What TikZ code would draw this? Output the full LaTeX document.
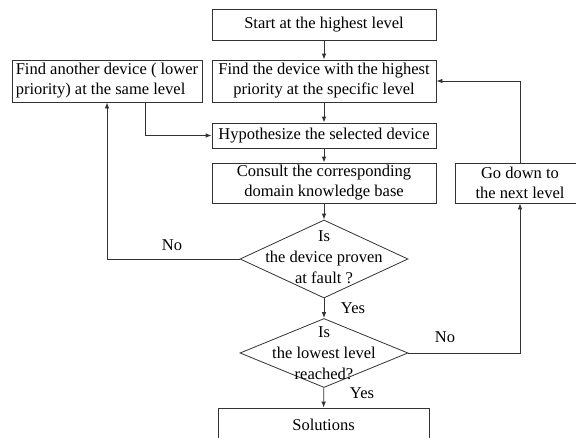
\documentclass[tikz,border=0pt]{standalone}
\usepackage{fontspec}
\setmainfont{Liberation Serif}
\usetikzlibrary{shapes.geometric,arrows.meta}
\begin{document}
\begin{tikzpicture}[x=1pt,y=-1pt,
  box/.style={draw=black!80,line width=0.8pt,inner sep=0pt,align=center,font=\fontsize{16.5}{20}\selectfont},
  dia/.style={draw=black!80,line width=0.8pt,shape=diamond,inner sep=0pt,minimum width=168pt},
  dtxt/.style={inner sep=0pt,align=center,font=\fontsize{16.5}{21}\selectfont},
  lab/.style={inner sep=0pt,font=\fontsize{16.5}{20}\selectfont},
  arr/.style={draw=black!80,line width=0.8pt,-{Latex[length=6pt,width=4.5pt]}}]
\useasboundingbox (0,0) rectangle (576,437);
\clip (0,0) rectangle (576,437);
\node[box,minimum width=224pt,minimum height=31pt] (start) at (324,24.5) {Start at the highest level};
\node[box,minimum width=224pt,minimum height=42pt] (find) at (324,81) {Find the device with the highest\\priority at the specific level};
\node[box,align=left,minimum width=190pt,minimum height=42pt] (other) at (107,81) {Find another device ( lower\\priority) at the same level};
\node[box,minimum width=224pt,minimum height=25pt] (hyp) at (324,135.5) {Hypothesize the selected device};
\node[box,minimum width=224pt,minimum height=40pt] (cons) at (324,183) {Consult the corresponding\\domain knowledge base};
\node[box,minimum width=130pt,minimum height=40pt] (down) at (520,183) {Go down to\\the next level};
\node[dia,minimum height=78pt] (d1) at (324,259) {};
\node[dtxt] (d1t) at (324,257.5) {Is\\the device proven\\at fault ?};
\node[dia,minimum height=69pt] (d2) at (324,353) {};
\node[dtxt] (d2t) at (324,353) {Is\\the lowest level\\reached?};
\node[box,minimum width=211pt,minimum height=34pt] (sol) at (323.5,425) {Solutions};
\draw[arr] (start) -- (find);
\draw[arr] (find) -- (hyp);
\draw[arr] (hyp) -- (cons);
\draw[arr] (cons) -- (d1);
\draw[arr] (d1) -- (d2);
\draw[arr] (d2) -- (sol);
\draw[arr] (d1.west) -| (other.south);
\draw[arr] ([xshift=38pt]other.south) |- (hyp.west);
\draw[arr] (d2.east) -| (down.south);
\draw[arr] (down.north) |- (find.east);
\node[lab] (no1) at (172,245) {No};
\node[lab] (yes1) at (353,308) {Yes};
\node[lab] (no2) at (445,337) {No};
\node[lab] (yes2) at (362,393) {Yes};
\end{tikzpicture}
\end{document}
